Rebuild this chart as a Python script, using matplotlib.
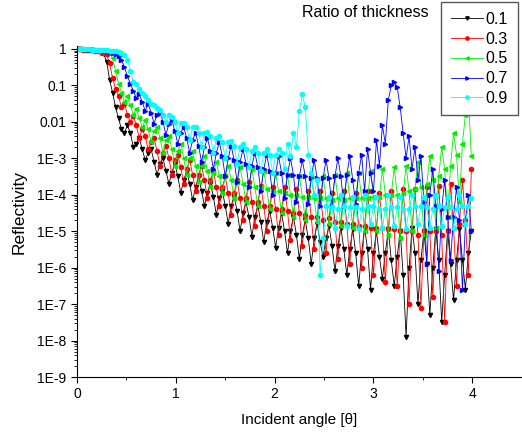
import numpy as np
import matplotlib
matplotlib.use("Agg")
import matplotlib.pyplot as plt
from matplotlib.ticker import FixedLocator, LogLocator, NullFormatter, MultipleLocator

plt.rcParams['font.family'] = ['Liberation Sans', 'DejaVu Sans']

# incident angle grid (deg), 0.03 step
angle = np.round(np.arange(134) * 0.03, 2)

# log10(reflectivity), one list per thickness ratio
log_r01 = [-0.01, -0.01, -0.02, -0.02, -0.03, -0.04, -0.05, -0.07, -0.1,
           -0.15, -0.35, -0.85, -1.2, -1.6, -1.9, -2.2, -2.3, -2.1, -2.3, -2.7, -2.6,
           -2.45, -2.75, -3.05, -2.85, -2.75, -3.1, -3.45, -3.15, -3.0, -3.35, -3.7, -3.4,
           -3.15, -3.5, -3.95, -3.6,
           -3.35, -3.7, -4.15, -3.8, -3.5, -3.9, -4.3, -3.95,
           -3.7, -4.05, -4.55, -4.1, -3.9, -4.3, -4.8, -4.3,
           -4.05, -4.45, -5.0, -4.5, -4.2, -4.6, -5.15, -4.6,
           -4.3, -4.75, -5.3, -4.75, -4.45, -4.9, -5.45, -4.9,
           -4.5, -5.0, -5.6, -5.0, -4.6, -5.1, -5.75, -5.1,
           -4.7, -5.2, -5.9, -5.2, -4.8, -5.3, -5.7, -5.2,
           -4.85, -5.4, -6.1, -5.4, -4.9, -5.5, -6.2, -5.5,
           -4.95, -5.6, -6.5, -5.6, -4.9, -5.5, -6.6, -5.6,
           -5.0, -5.7, -6.3, -5.6, -4.95, -5.8, -6.5, -5.7,
           -5.0, -6.2, -7.9, -6.0, -4.9, -5.6, -7.0, -5.8,
           -5.0, -5.9, -7.3, -6.0, -4.95, -5.8, -7.5, -6.2,
           -5.0, -5.9, -6.9, -5.8, -4.95, -5.8, -6.6, -5.6,
           -5.0]

log_r03 = [-0.01, -0.01, -0.02, -0.02, -0.03, -0.04, -0.05, -0.06, -0.08, -0.1,
           -0.15, -0.4, -0.8, -1.1, -1.3, -1.6, -1.5, -1.8, -2.0, -1.85,
           -2.1, -2.45, -2.2, -2.4, -2.75, -2.55, -2.45, -2.8, -3.2, -2.85,
           -2.65, -3.0, -3.45, -3.05, -2.9, -3.25, -3.7, -3.3,
           -3.05, -3.45, -3.9, -3.45, -3.2, -3.6, -4.1, -3.6,
           -3.35, -3.8, -4.3, -3.8, -3.5, -3.95, -4.55, -3.95,
           -3.6, -4.1, -4.7, -4.1, -3.65, -4.2, -4.85, -4.2,
           -3.75, -4.3, -5.0, -4.3, -3.8, -4.4, -5.1, -4.4,
           -3.8, -4.45, -5.25, -4.5, -3.85, -4.5, -5.4, -4.55,
           -3.9, -4.6, -5.5, -4.6, -3.9, -4.7, -5.6, -4.65,
           -3.95, -4.75, -5.75, -4.75, -3.9, -4.8, -5.9, -4.8,
           -3.95, -4.85, -6.0, -4.85, -3.9, -4.9, -6.2, -4.9,
           -3.95, -4.9, -6.4, -4.95, -3.9, -4.95, -6.5, -5.0,
           -3.85, -5.0, -7.0, -5.0, -3.85, -5.1, -7.1, -5.0,
           -3.8, -5.0, -6.8, -5.0, -3.75, -5.1, -7.5, -5.0,
           -3.7, -4.9, -6.5, -4.8,
           -3.6, -4.7, -6.2, -3.3]

log_r05 = [-0.01, -0.01, -0.01, -0.02, -0.02, -0.03, -0.04, -0.05, -0.06, -0.07, -0.09, -0.12,
           -0.25, -0.6, -0.95, -1.2, -1.45, -1.3, -1.55, -1.8, -1.65, -1.9, -2.15, -1.95,
           -2.2, -2.55, -2.25,
           -2.15, -2.45, -2.85, -2.5, -2.4, -2.75, -3.2, -2.8,
           -2.6, -3.0, -3.45, -3.0, -2.8, -3.2, -3.65, -3.2,
           -2.95, -3.35, -3.8, -3.4, -3.1, -3.5, -3.95, -3.5,
           -3.2, -3.6, -4.1, -3.65, -3.25, -3.7, -4.2, -3.75,
           -3.3, -3.8, -4.3, -3.8, -3.35, -3.85, -4.4, -3.9,
           -3.4, -3.9, -4.5, -3.95, -3.45, -4.0, -4.6, -4.0,
           -3.5, -4.05, -4.7, -4.05, -3.5, -4.1, -4.75, -4.1,
           -3.5, -4.1, -4.8, -4.15, -3.45, -4.1, -4.85, -4.15,
           -3.4, -4.1, -4.9, -4.1, -3.4, -4.1, -5.0, -4.1,
           -3.35, -4.05, -5.0, -4.05, -3.3, -4.0, -5.1, -4.0,
           -3.25, -4.0, -5.2, -3.95, -3.2, -3.9, -5.0, -3.85,
           -3.1, -3.8, -5.1, -3.7, -2.95, -3.6, -4.9, -3.5,
           -2.7, -3.3, -4.6, -3.2, -2.3, -2.9, -4.2, -2.6,
           -1.8, -1.3, -2.95]

log_r07 = [-0.01, -0.01, -0.01, -0.01, -0.02, -0.02, -0.03, -0.03, -0.04, -0.05, -0.06, -0.08,
           -0.1, -0.15,
           -0.2, -0.3, -0.5, -0.75, -0.95, -1.15, -1.35, -1.25, -1.45, -1.7, -1.5, -1.75,
           -2.05, -1.8,
           -1.75, -2.0, -2.35, -2.05, -1.95, -2.25, -2.6, -2.3,
           -2.15, -2.45, -2.85, -2.5, -2.3, -2.65, -3.1, -2.7,
           -2.45, -2.8, -3.3, -2.85, -2.55, -2.95, -3.5, -3.0,
           -2.65, -3.05, -3.65, -3.1, -2.75, -3.15, -3.8, -3.2,
           -2.85, -3.25, -3.9, -3.3, -2.9, -3.35, -4.0, -3.4,
           -2.95, -3.4, -4.1, -3.45, -3.0, -3.45, -4.2, -3.5,
           -3.05, -3.5, -4.25, -3.55, -3.05, -3.55, -4.3, -3.55,
           -3.05, -3.55, -4.3, -3.5, -3.0, -3.5, -4.3, -3.45,
           -2.95, -3.6, -4.25, -3.4, -2.9,
           -3.9, -2.75, -3.4, -3.9, -2.5, -3.2, -2.1, -2.6, -1.4, -1.0, -0.92, -1.05, -1.6,
           -2.3, -3.0, -2.4, -3.3, -2.7, -3.6, -2.95, -4.2,
           -5.9, -4.0,
           -3.3, -4.3, -6.1, -4.4, -3.6, -4.6, -5.8, -4.6, -3.8, -4.7, -6.6, -4.8,
           -4.0, -5.0]

log_r09 = [-0.01, -0.01, -0.01, -0.01, -0.01, -0.02, -0.02, -0.02, -0.03, -0.03, -0.04, -0.05,
           -0.06, -0.07, -0.09, -0.12,
           -0.16, -0.3, -0.6, -0.9, -0.95, -1.1, -1.2, -1.3, -1.4, -1.5, -1.55, -1.62,
           -1.68, -1.8, -2.0, -1.82, -1.88, -2.0, -2.3, -2.02,
           -2.02, -2.15, -2.5, -2.15, -2.15, -2.3, -2.7, -2.3,
           -2.27, -2.4, -2.85, -2.45, -2.4, -2.55, -3.0, -2.55,
           -2.52, -2.65, -3.15, -2.7, -2.62, -2.75, -3.25, -2.8,
           -2.7, -2.85, -3.35, -2.85, -2.75, -2.9, -3.4, -2.9,
           -2.75, -2.85, -3.3,
           -2.6, -2.95, -2.3, -2.7, -1.7, -1.25, -1.6, -2.9, -3.4, -4.0, -3.6, -6.2, -5.2,
           -4.3,
           -4.05, -4.35, -4.9, -4.4, -4.0, -4.3, -4.85, -4.35,
           -4.05, -4.35, -4.95, -4.4, -4.0, -4.3, -4.8, -4.3,
           -4.05, -4.4, -4.9, -4.4, -4.0, -4.35, -4.85, -4.35,
           -4.05, -4.4, -4.95, -4.4, -4.0, -4.3, -4.8, -4.3,
           -4.05, -4.35, -4.9, -4.4, -4.0, -4.3, -4.85, -4.35,
           -4.05, -4.35, -4.9, -4.4, -4.0, -4.3, -4.8, -4.3,
           -4.1]

labels = ['0.1', '0.3', '0.5', '0.7', '0.9']
colors = ['black', 'red', '#00ee00', 'blue', 'cyan']
markers = ['v', 'o', '<', '>', 'o']
series = [log_r01, log_r03, log_r05, log_r07, log_r09]

y_ticks = [1, 0.1, 0.01, 1e-3, 1e-4, 1e-5, 1e-6, 1e-7, 1e-8, 1e-9]
y_ticklabels = ['1', '0.1', '0.01', '1E-3', '1E-4', '1E-5', '1E-6', '1E-7', '1E-8', '1E-9']

fig = plt.figure(figsize=(5.22, 4.32), dpi=100)
ax = fig.add_axes([0.1475, 0.1273, 0.852, 0.7662])

for vals, lab, c, m in zip(series, labels, colors, markers):
    ax.plot(angle, np.power(10.0, vals), color=c, lw=0.6, marker=m, ms=3,
            mec=c, mfc=c, label=lab)

ax.set_yscale('log')
ax.set_xlim(0, 4.5)
ax.set_ylim(1e-9, 1.2)
ax.yaxis.set_major_locator(FixedLocator(y_ticks))
ax.set_yticklabels(y_ticklabels)
ax.yaxis.set_minor_locator(LogLocator(base=10, subs=np.arange(2, 10), numticks=20))
ax.yaxis.set_minor_formatter(NullFormatter())
ax.xaxis.set_major_locator(MultipleLocator(1))
ax.xaxis.set_minor_locator(MultipleLocator(0.5))

for s in ['top', 'right']:
    ax.spines[s].set_visible(False)
ax.tick_params(which='major', direction='out', length=4, width=0.8, labelsize=10)
ax.tick_params(which='minor', direction='out', length=2.5, width=0.6)

ax.set_xlabel('Incident angle [\u03b8]', fontsize=11, labelpad=8)
ax.set_ylabel('Reflectivity', fontsize=12.5, labelpad=8)

leg = ax.legend(loc='upper left', bbox_to_anchor=(0.845, 0.995),
                bbox_transform=fig.transFigure, borderaxespad=0, fontsize=11.5,
                frameon=True, fancybox=False, framealpha=1, handlelength=2.0,
                labelspacing=0.3, handletextpad=0.2, borderpad=0.6, markerscale=0.8)
leg.get_frame().set_edgecolor('#555555')
leg.get_frame().set_linewidth(1.0)
leg.set_zorder(10)
fig.text(0.579, 0.972, 'Ratio of thickness', fontsize=11.5, va='center', ha='left')

fig.savefig('out.png', dpi=100)
